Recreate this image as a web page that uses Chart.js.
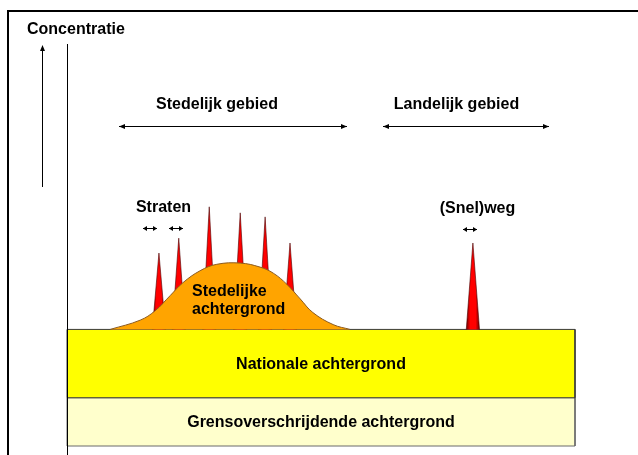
<!DOCTYPE html>
<html>
<head>
<meta charset="utf-8">
<script src="https://cdn.jsdelivr.net/npm/chart.js@4.4.0/dist/chart.umd.min.js"></script>
<style>
  html, body { margin: 0; padding: 0; background: #fff; }
  canvas { display: block; }
</style>
</head>
<body>
<canvas id="chart" width="638" height="455"></canvas>
<script>
// transect through the area: distance 0..100, concentration 0..100 (arbitrary units)
const transectRange = [0, 100];
const layerLabels = ["Grensoverschrijdende achtergrond", "Nationale achtergrond", "Stedelijke achtergrond"];
const grensLevel = 12;
const nationalLevel = 29;

// urban background (the hill)
const hillX = [8.5, 14.4, 17.3, 20.3, 22.8, 26.2, 29.5, 34.1, 38.0, 40.6, 43.3, 45.9, 48.4, 52.4, 55.7];
const hillY = [29, 31.3, 33.6, 37.4, 40.6, 43.6, 45.2, 45.5, 44.5, 43.0, 40.2, 36.6, 33.2, 30.2, 29];

// street peaks and the highway peak
const streetX = [18.1, 22.0, 28.0, 34.1, 39.0, 43.9];
const streetPeak = [48.0, 51.7, 59.5, 58.0, 57.0, 50.5];
const highwayX = [79.9];
const highwayPeak = [50.5];

const toPts = (xs, ys) => xs.map((x, i) => ({ x: x, y: ys[i] }));

function rectPts(lo, hi) {
  const a = transectRange[0], b = transectRange[1];
  return [{ x: a, y: lo }, { x: a, y: hi }, { x: b, y: hi }, { x: b, y: lo }, { x: a, y: lo }];
}

const spikeHalf = 1.3;
function spikePts(x, peak) {
  return [{ x: x - spikeHalf, y: nationalLevel }, { x: x, y: peak }, { x: x + spikeHalf, y: nationalLevel }];
}

// red spike with darker edges
function spikeFill(x) {
  return (c) => {
    const xs = c.chart.scales.x;
    if (!xs || !c.chart.chartArea) return "#FF0000";
    const x1 = xs.getPixelForValue(x - spikeHalf), x2 = xs.getPixelForValue(x + spikeHalf);
    if (!isFinite(x1) || !isFinite(x2)) return "#FF0000";
    const g = c.chart.ctx.createLinearGradient(x1, 0, x2, 0);
    g.addColorStop(0, "#700000");
    g.addColorStop(0.3, "#FF0000");
    g.addColorStop(0.7, "#FF0000");
    g.addColorStop(1, "#700000");
    return g;
  };
}

const base = { pointRadius: 0, fill: "shape", clip: false, tension: 0 };

const datasets = [
  Object.assign({}, base, {
    label: layerLabels[2],
    data: toPts(hillX, hillY),
    backgroundColor: "#FFA400",
    borderColor: "#8a5a20",
    borderWidth: 1,
    tension: 0.4,
    order: 1,
  }),
];

streetX.concat(highwayX).forEach((x, i) => {
  const peak = streetPeak.concat(highwayPeak)[i];
  datasets.push(Object.assign({}, base, {
    label: i < streetX.length ? "Straat" : "(Snel)weg",
    data: spikePts(x, peak),
    backgroundColor: spikeFill(x),
    borderColor: "#4a0000",
    borderWidth: 0.6,
    order: 2,
  }));
});

datasets.push(Object.assign({}, base, {
  label: layerLabels[1],
  data: rectPts(grensLevel, nationalLevel),
  backgroundColor: "#FFFF00",
  borderColor: "#3a3a3a",
  borderWidth: 1,
  order: 3,
}));

datasets.push(Object.assign({}, base, {
  label: layerLabels[0],
  data: rectPts(0, grensLevel),
  backgroundColor: "#FFFFCC",
  borderColor: "#6a6a6a",
  borderWidth: 1,
  order: 4,
}));

function arrowHead(ctx, x, y, dx, dy, len, half) {
  ctx.beginPath();
  ctx.moveTo(x, y);
  ctx.lineTo(x - dx * len - dy * half, y - dy * len + dx * half);
  ctx.lineTo(x - dx * len + dy * half, y - dy * len - dx * half);
  ctx.closePath();
  ctx.fill();
}

function hArrow(ctx, x1, x2, y, len, half) {
  ctx.beginPath();
  ctx.moveTo(x1, y);
  ctx.lineTo(x2, y);
  ctx.stroke();
  arrowHead(ctx, x1, y, -1, 0, len, half);
  arrowHead(ctx, x2, y, 1, 0, len, half);
}

const annotations = {
  id: "annotations",
  afterDraw(chart) {
    const ctx = chart.ctx;
    const xs = chart.scales.x, ys = chart.scales.y;
    ctx.save();

    // frame
    ctx.strokeStyle = "#000";
    ctx.lineWidth = 2;
    ctx.beginPath();
    ctx.moveTo(8, 455);
    ctx.lineTo(8, 11);
    ctx.lineTo(638, 11);
    ctx.stroke();

    // vertical axis line
    ctx.lineWidth = 1;
    ctx.beginPath();
    ctx.moveTo(67.5, chart.chartArea.top);
    ctx.lineTo(67.5, 455);
    ctx.stroke();

    // concentration arrow
    ctx.fillStyle = "#000";
    ctx.beginPath();
    ctx.moveTo(42.5, 187);
    ctx.lineTo(42.5, 48);
    ctx.stroke();
    arrowHead(ctx, 42.5, 45, 0, -1, 6, 2.5);

    // area arrows
    hArrow(ctx, 119, 347, 126.5, 6, 2.5);
    hArrow(ctx, 383, 549, 126.5, 6, 2.5);
    hArrow(ctx, 143, 157, 228.5, 4, 2.5);
    hArrow(ctx, 169, 183, 228.5, 4, 2.5);
    hArrow(ctx, 463, 477, 229.5, 4, 2.5);

    ctx.font = "bold 16px 'Liberation Sans', Arial, sans-serif";
    ctx.textBaseline = "middle";
    ctx.fillStyle = "#000";
    ctx.textAlign = "left";
    ctx.fillText("Concentratie", 27, 30);
    ctx.fillText("Stedelijke", 192, 292);
    ctx.fillText("achtergrond", 192, 309.5);

    ctx.textAlign = "center";
    ctx.fillText("Stedelijk gebied", 217, 105);
    ctx.fillText("Landelijk gebied", 456.5, 105);
    ctx.fillText("Straten", 163.5, 207.5);
    ctx.fillText("(Snel)weg", 477.5, 209);

    const midX = xs.getPixelForValue((transectRange[0] + transectRange[1]) / 2);
    ctx.fillText(layerLabels[1], midX, ys.getPixelForValue((grensLevel + nationalLevel) / 2) + 1.5);
    ctx.fillText(layerLabels[0], midX, ys.getPixelForValue(grensLevel / 2) + 1);
    ctx.restore();
  },
};

new Chart(document.getElementById("chart").getContext("2d"), {
  type: "line",
  data: { datasets: datasets },
  options: {
    responsive: false,
    animation: false,
    events: [],
    layout: { padding: { left: 67, right: 63, top: 44, bottom: 9 } },
    scales: {
      x: { type: "linear", min: transectRange[0], max: transectRange[1], display: false },
      y: { type: "linear", min: 0, max: 100, display: false },
    },
    plugins: {
      legend: { display: false },
      tooltip: { enabled: false },
    },
  },
  plugins: [annotations],
});
</script>
</body>
</html>
